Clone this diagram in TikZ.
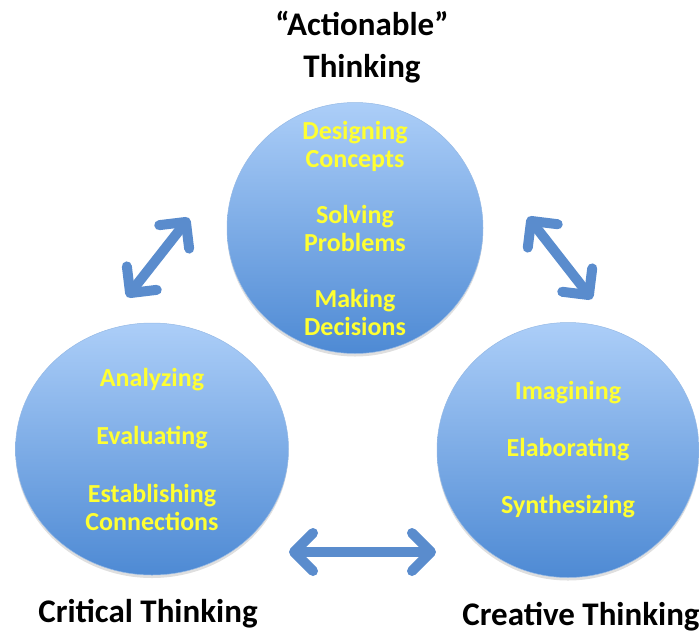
\documentclass[tikz,border=0pt]{standalone}
\usepackage{fontspec}
\setmainfont{Carlito}
\usetikzlibrary{positioning, shapes.geometric, shadows, arrows.meta}
\definecolor{bubbletop}{RGB}{172,206,248}
\definecolor{bubblebot}{RGB}{78,138,212}
\definecolor{linkblue}{RGB}{90,140,205}
\definecolor{itemyellow}{RGB}{255,255,50}

\begin{document}
\begin{tikzpicture}[x=1pt, y=1pt,
		bubble/.style={ellipse, draw=bubblebot!60!white, line width=0.5pt, top color=bubbletop, bottom color=bubblebot, drop shadow={opacity=0.25, shadow xshift=0pt, shadow yshift=-3pt}},
		items/.style={align=center, text=itemyellow, font=\fontsize{26}{28}\selectfont\bfseries},
		title/.style={align=center, font=\fontsize{33}{42}\selectfont\bfseries},
		link/.style={draw=linkblue, line width=10pt, <->, >={Straight Barb[length=19pt, width=38pt, round]}}]
		\useasboundingbox (0,0) rectangle (699,-638);
		% the three kinds of thinking
		\node[bubble, minimum width=256pt, minimum height=251pt] (act) at (355,-228) {};
		\node[bubble, minimum width=273pt, minimum height=252pt] (crit) at (152,-449) {};
		\node[bubble, minimum width=262pt, minimum height=255pt] (crea) at (568,-450) {};
		\node[items] (actitems) at (act) {Designing\\Concepts\\[28pt]Solving\\Problems\\[28pt]Making\\Decisions};
		\node[items] (crititems) at (crit) {Analyzing\\[30pt]Evaluating\\[30pt]Establishing\\Connections};
		\node[items] (creaitems) at (crea) {Imagining\\[29pt]Elaborating\\[29pt]Synthesizing};
		\node[title] (acttitle) [above=16pt of act, xshift=7pt] {“Actionable”\\Thinking};
		\node[title] (crittitle) [below=21pt of crit, xshift=-4pt] {Critical Thinking};
		\node[title] (creatitle) [below=21pt of crea, xshift=13pt] {Creative Thinking};
		% two-way links
		\coordinate (ca) at (127,-297); \coordinate (ac) at (189,-218);
		\coordinate (ar) at (528,-217); \coordinate (ra) at (592,-299);
		\coordinate (cr) at (289,-552); \coordinate (rc) at (436,-552);
		\draw[link] (ca) -- (ac);
		\draw[link] (ar) -- (ra);
		\draw[link] (cr) -- (rc);
	\end{tikzpicture}
\end{document}
